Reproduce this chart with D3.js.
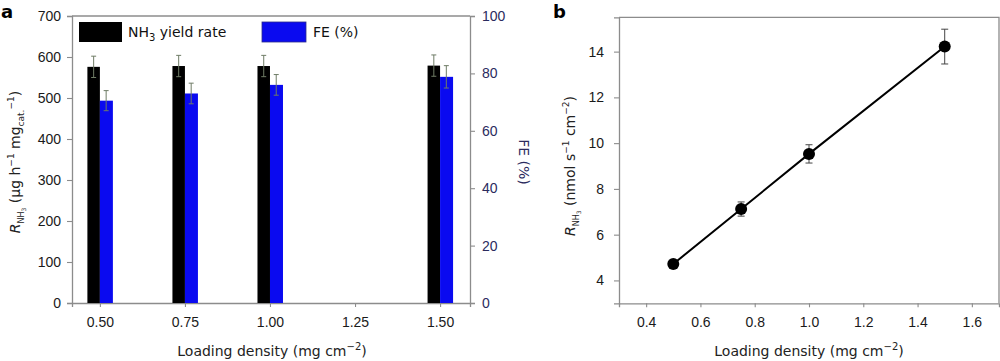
<!DOCTYPE html>
<html>
<head>
<meta charset="utf-8">
<script src="https://cdn.jsdelivr.net/npm/d3@7"></script>
<style>
  body { margin: 0; background: #fff; }
  svg { font-family: "DejaVu Sans", sans-serif; }
</style>
</head>
<body>
<div id="chart"></div>
<script>
// panel a data
var loading = [0.50, 0.75, 1.00, 1.50];
var yieldRate = [576, 578, 578, 579];
var yieldErr = [26, 26, 26, 26];
var fe = [70.5, 73.0, 76.0, 78.8];
var feErr = [3.5, 3.6, 3.6, 3.9];
var aTicks = [0.50, 0.75, 1.00, 1.25, 1.50];

// panel b data
var bLoading = [0.5, 0.75, 1.0, 1.5];
var bRate = [4.72, 7.12, 9.53, 14.22];
var bErr = [0.08, 0.31, 0.40, 0.76];

var svg = d3.select("#chart")
  .append("svg")
  .attr("width", 1000)
  .attr("height", 361);

var axisColor = "#8c8c8c";
var navy = "#2b2b5e";

function styleAxis(g, color) {
  g.selectAll(".domain").attr("stroke", axisColor).attr("stroke-width", 1.3);
  g.selectAll(".tick line").attr("stroke", axisColor).attr("stroke-width", 1.1);
  g.selectAll(".tick text").attr("fill", color || "#1a1a1a").style("font-size", "14px");
}

// ---------- panel a ----------
var xA = d3.scaleLinear().domain([0.418, 1.588]).range([72, 470]);
var yA = d3.scaleLinear().domain([0, 700]).range([303, 16]);
var yFE = d3.scaleLinear().domain([0, 100]).range([303, 16]);

var barW = 12.5;

var gA = svg.append("g");

gA.append("g")
  .attr("transform", "translate(0,303)")
  .call(d3.axisBottom(xA).tickValues(aTicks).tickFormat(d3.format(".2f")).tickSize(4).tickPadding(10))
  .call(styleAxis);

gA.append("g")
  .attr("transform", "translate(72,0)")
  .call(d3.axisLeft(yA).tickValues(d3.range(0, 701, 100)).tickSize(5).tickPadding(6))
  .call(styleAxis);

gA.append("g")
  .attr("transform", "translate(470,0)")
  .call(d3.axisRight(yFE).tickValues(d3.range(0, 101, 20)).tickSize(5).tickPadding(7))
  .call(g => styleAxis(g, navy));

// top border
gA.append("line")
  .attr("x1", 72).attr("x2", 470)
  .attr("y1", 16).attr("y2", 16)
  .attr("stroke", axisColor).attr("stroke-width", 1.3);

// bars
gA.selectAll(".barY")
  .data(loading)
  .enter()
  .append("rect")
  .attr("x", d => xA(d) - barW)
  .attr("y", (d, i) => yA(yieldRate[i]))
  .attr("width", barW)
  .attr("height", (d, i) => yA(0) - yA(yieldRate[i]))
  .attr("fill", "#000");

gA.selectAll(".barF")
  .data(loading)
  .enter()
  .append("rect")
  .attr("x", d => xA(d))
  .attr("y", (d, i) => yFE(fe[i]))
  .attr("width", barW + 0.5)
  .attr("height", (d, i) => yFE(0) - yFE(fe[i]))
  .attr("fill", "#0a0af0");

// error bars a
var errColor = "#6f7c66";
function errBars(g, xs, ys, es, scale, cap, color, width) {
  xs.forEach(function (x, i) {
    var top = scale(ys[i] + es[i]), bot = scale(ys[i] - es[i]);
    g.append("line").attr("x1", x).attr("x2", x).attr("y1", top).attr("y2", bot)
      .attr("stroke", color).attr("stroke-width", width);
    [top, bot].forEach(function (yy) {
      g.append("line").attr("x1", x - cap).attr("x2", x + cap).attr("y1", yy).attr("y2", yy)
        .attr("stroke", color).attr("stroke-width", width);
    });
  });
}
errBars(gA, loading.map(d => xA(d) - barW / 2), yieldRate, yieldErr, yA, 2.5, errColor, 1);
errBars(gA, loading.map(d => xA(d) + barW / 2), fe, feErr, yFE, 2.5, errColor, 1);

// legend
gA.append("rect").attr("x", 79).attr("y", 22).attr("width", 43).attr("height", 20).attr("fill", "#000");
var l1 = gA.append("text").attr("x", 128).attr("y", 37).style("font-size", "14px").attr("fill", "#111");
l1.append("tspan").text("NH");
l1.append("tspan").attr("dy", 4).style("font-size", "10px").text("3");
l1.append("tspan").attr("dy", -4).text(" yield rate");

gA.append("rect").attr("x", 262).attr("y", 22).attr("width", 44).attr("height", 20)
  .attr("fill", "#0a0af0").attr("stroke", "#2b2b8a").attr("stroke-width", 0.8);
gA.append("text").attr("x", 313).attr("y", 37).style("font-size", "14px").attr("fill", "#111").text("FE (%)");

// axis titles a
var xtA = gA.append("text")
  .attr("x", 272).attr("y", 356)
  .attr("text-anchor", "middle").style("font-size", "14px").attr("fill", "#222");
xtA.append("tspan").text("Loading density (mg cm");
xtA.append("tspan").attr("dy", -6).style("font-size", "10px").text("\u22122");
xtA.append("tspan").attr("dy", 6).text(")");

var ytA = gA.append("text")
  .attr("transform", "translate(20,162) rotate(-90)")
  .attr("text-anchor", "middle").style("font-size", "14px").attr("fill", "#222");
ytA.append("tspan").style("font-style", "italic").text("R");
ytA.append("tspan").attr("dy", 4).style("font-size", "8px").text("NH");
ytA.append("tspan").attr("dy", 2).style("font-size", "6px").text("3");
ytA.append("tspan").attr("dy", -6).text(" (\u03bcg h");
ytA.append("tspan").attr("dy", -6).style("font-size", "9px").text("\u22121");
ytA.append("tspan").attr("dy", 6).text(" mg");
ytA.append("tspan").attr("dy", 4).style("font-size", "9px").text("cat.");
ytA.append("tspan").attr("dy", -10).style("font-size", "9px").text("\u22121");
ytA.append("tspan").attr("dy", 6).text(")");

gA.append("text")
  .attr("transform", "translate(519,162) rotate(90)")
  .attr("text-anchor", "middle").style("font-size", "14px").attr("fill", navy)
  .text("FE (%)");

svg.append("text").attr("x", 1).attr("y", 18).style("font-size", "18px").style("font-weight", "bold").text("a");

// ---------- panel b ----------
var xB = d3.scaleLinear().domain([0.3, 1.7]).range([619, 999]);
var yB = d3.scaleLinear().domain([3, 15.5]).range([303.3, 17.3]);

var gB = svg.append("g");

gB.append("g")
  .attr("transform", "translate(0,303.3)")
  .call(d3.axisBottom(xB).tickValues(d3.range(0.4, 1.61, 0.2)).tickFormat(d3.format(".1f")).tickSize(4).tickPadding(10))
  .call(styleAxis);

gB.append("g")
  .attr("transform", "translate(619,0)")
  .call(d3.axisLeft(yB).tickValues(d3.range(4, 15, 2)).tickSize(5).tickPadding(10))
  .call(styleAxis);

gB.append("path")
  .attr("d", "M619,17.3H999V303.3")
  .attr("fill", "none").attr("stroke", axisColor).attr("stroke-width", 1.3);

errBars(gB, bLoading.map(d => xB(d)), bRate, bErr, yB, 3.5, "#444", 1);

var line = d3.line().x((d, i) => xB(d)).y((d, i) => yB(bRate[i]));
gB.append("path")
  .datum(bLoading)
  .attr("d", line)
  .attr("fill", "none").attr("stroke", "#000").attr("stroke-width", 2);

gB.selectAll("circle")
  .data(bLoading)
  .enter()
  .append("circle")
  .attr("cx", d => xB(d))
  .attr("cy", (d, i) => yB(bRate[i]))
  .attr("r", 6)
  .attr("fill", "#000");

var xtB = gB.append("text")
  .attr("x", 809).attr("y", 356)
  .attr("text-anchor", "middle").style("font-size", "14px").attr("fill", "#222");
xtB.append("tspan").text("Loading density (mg cm");
xtB.append("tspan").attr("dy", -6).style("font-size", "10px").text("\u22122");
xtB.append("tspan").attr("dy", 6).text(")");

var ytB = gB.append("text")
  .attr("transform", "translate(575,166) rotate(-90)")
  .attr("text-anchor", "middle").style("font-size", "14px").attr("fill", "#222");
ytB.append("tspan").style("font-style", "italic").text("R");
ytB.append("tspan").attr("dy", 4).style("font-size", "8px").text("NH");
ytB.append("tspan").attr("dy", 2).style("font-size", "6px").text("3");
ytB.append("tspan").attr("dy", -6).text(" (nmol s");
ytB.append("tspan").attr("dy", -6).style("font-size", "9px").text("\u22121");
ytB.append("tspan").attr("dy", 6).text(" cm");
ytB.append("tspan").attr("dy", -6).style("font-size", "9px").text("\u22122");
ytB.append("tspan").attr("dy", 6).text(")");

svg.append("text").attr("x", 553).attr("y", 18).style("font-size", "18px").style("font-weight", "bold").text("b");
</script>
</body>
</html>
